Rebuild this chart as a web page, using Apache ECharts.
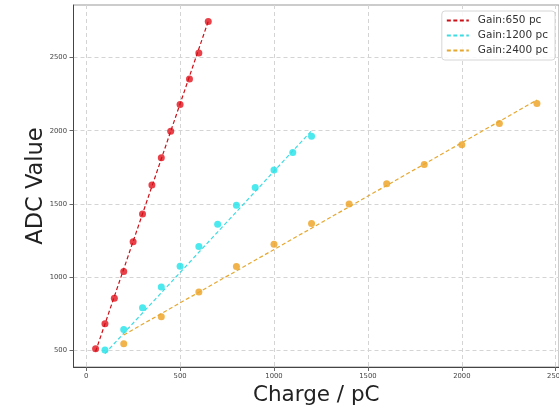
<!DOCTYPE html>
<html>
<head>
<meta charset="utf-8">
<script src="https://cdn.jsdelivr.net/npm/echarts@6/dist/echarts.min.js"></script>
<style>
  html, body { margin: 0; padding: 0; background: #fff; }
  #chart { width: 559px; height: 409px; }
</style>
</head>
<body>
<div id="chart"></div>
<script>
const chargeRed = [50, 100, 150, 200, 250, 300, 350, 400, 450, 500, 550, 600, 650];
const adcRed = [511, 681, 855, 1039, 1241, 1432, 1629, 1815, 1997, 2179, 2354, 2531, 2746];

const chargeCyan = [100, 200, 300, 400, 500, 600, 700, 800, 900, 1000, 1100, 1200];
const adcCyan = [502, 643, 791, 932, 1075, 1209, 1362, 1491, 1612, 1731, 1852, 1963];

const chargeOrange = [200, 400, 600, 800, 1000, 1200, 1400, 1600, 1800, 2000, 2200, 2400];
const adcOrange = [545, 729, 898, 1073, 1225, 1366, 1500, 1638, 1770, 1904, 2050, 2186];

// fit line end points
const fitRedX = [50, 650];
const fitRedY = [492, 2748];
const fitCyanX = [100, 1200];
const fitCyanY = [478, 2000];
const fitOrangeX = [200, 2400];
const fitOrangeY = [605, 2210];

const legendNames = ["Gain:650 pc", "Gain:1200 pc", "Gain:2400 pc"];
const xTicks = [0, 500, 1000, 1500, 2000, 2500];
const yTicks = [500, 1000, 1500, 2000, 2500];

const colors = { red: "#e3121b", cyan: "#1fe3ea", orange: "#eda11f" };
const lineColors = { red: "#cc1018", cyan: "#3fdbe2", orange: "#e6a830" };

const zip = (xs, ys) => xs.map((x, i) => [x, ys[i]]);
const font = "DejaVu Sans";

const chart = echarts.init(document.getElementById("chart"));

function fitSeries(name, xs, ys, color) {
  return {
    name,
    type: "line",
    data: zip(xs, ys),
    symbol: "none",
    z: 3,
    lineStyle: { color, width: 1.2, type: [4, 2.5] },
    itemStyle: { color },
  };
}

function pointSeries(xs, ys, color) {
  return {
    type: "scatter",
    data: zip(xs, ys),
    symbolSize: 7,
    z: 2,
    itemStyle: { color },
  };
}

const plainLabel = (v) => String(v);

chart.setOption({
  animation: false,
  grid: {
    left: 73.5, top: 5, right: 0, bottom: 42,
    show: true, borderColor: "#999", borderWidth: 1,
    outerBoundsMode: "none",
  },
  legend: {
    data: legendNames,
    orient: "vertical",
    right: 4, top: 11,
    itemWidth: 22, itemHeight: 10, itemGap: 4,
    padding: [4, 7, 4, 4],
    borderColor: "#d6d6d6", borderWidth: 1, borderRadius: 3,
    backgroundColor: "rgba(255,255,255,0.85)",
    itemStyle: { opacity: 0 },
    textStyle: { fontFamily: font, fontSize: 10.5, color: "#333", padding: [0, 0, 0, 4] },
  },
  xAxis: {
    type: "value",
    min: -67.5, max: 2517.5,
    name: "Charge / pC",
    nameLocation: "middle",
    nameGap: 17,
    nameTextStyle: { fontFamily: font, fontSize: 21.5, color: "#222" },
    axisLine: { onZero: false, lineStyle: { color: "#444", width: 1 } },
    axisTick: { show: true, length: 4, customValues: xTicks, lineStyle: { color: "#666" } },
    axisLabel: { customValues: xTicks, formatter: plainLabel, fontFamily: font, fontSize: 6.8, color: "#444", margin: 6 },
    splitLine: { show: true, lineStyle: { color: "#d4d4d4", type: [4, 3], width: 1 } },
  },
  yAxis: {
    type: "value",
    min: 386, max: 2859,
    name: "ADC Value",
    nameLocation: "middle",
    nameGap: 26,
    nameMoveOverlap: false,
    nameTextStyle: { fontFamily: font, fontSize: 22.5, color: "#222" },
    axisLine: { show: true, onZero: false, lineStyle: { color: "#444", width: 1 } },
    axisTick: { show: true, length: 4, customValues: yTicks, lineStyle: { color: "#666" } },
    axisLabel: { customValues: yTicks, formatter: plainLabel, fontFamily: font, fontSize: 6.8, color: "#444", margin: 6.5 },
    splitLine: { show: true, lineStyle: { color: "#d4d4d4", type: [4, 3], width: 1 } },
  },
  series: [
    fitSeries(legendNames[0], fitRedX, fitRedY, lineColors.red),
    fitSeries(legendNames[1], fitCyanX, fitCyanY, lineColors.cyan),
    fitSeries(legendNames[2], fitOrangeX, fitOrangeY, lineColors.orange),
    pointSeries(chargeRed, adcRed, colors.red),
    pointSeries(chargeCyan, adcCyan, colors.cyan),
    pointSeries(chargeOrange, adcOrange, colors.orange),
  ],
});
</script>
</body>
</html>
